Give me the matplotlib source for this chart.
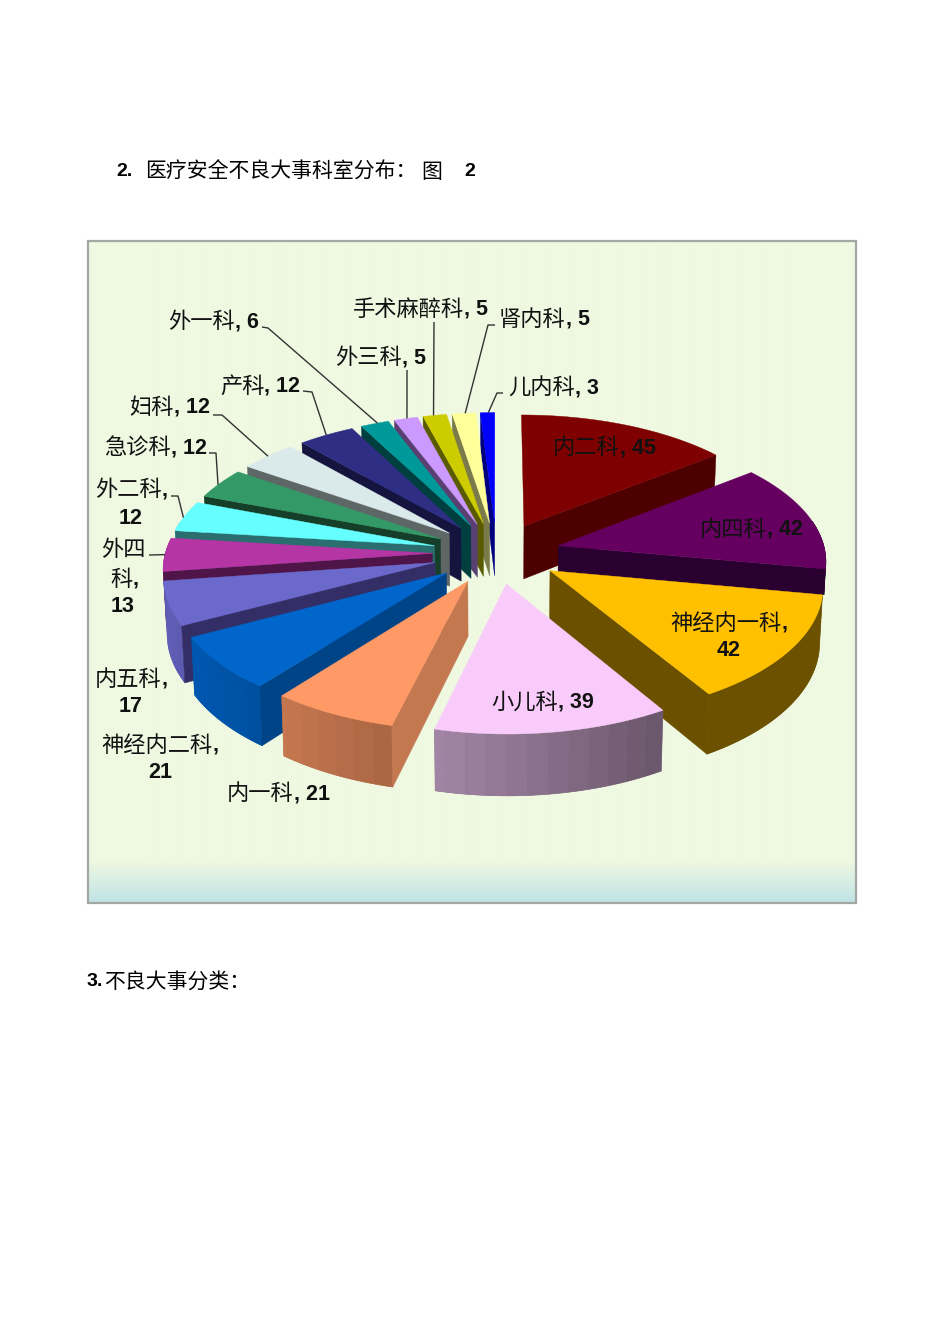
import numpy as np
import matplotlib
matplotlib.use("Agg")
import matplotlib.pyplot as plt
from matplotlib.colors import to_rgb, LinearSegmentedColormap
from matplotlib.patches import Polygon, Rectangle

categories = ["内二科", "内四科", "神经内一科", "小儿科", "内一科", "神经内二科", "内五科", "外四科",
              "外二科", "急诊科", "妇科", "产科", "外一科", "外三科", "手术麻醉科", "肾内科", "儿内科"]
values = [45, 42, 42, 39, 21, 21, 17, 13, 12, 12, 12, 12, 6, 5, 5, 5, 3]

top_colors = ["#7F0000", "#660060", "#FFC000", "#F8CBFB", "#FF9966", "#0066CC", "#6B69CC", "#B535A5",
              "#66FFFF", "#339966", "#DAE9EA", "#2E2E85", "#009999", "#CC99FF", "#CCCC00", "#FFFF99", "#0000FF"]
wall_colors = ["#4D0000", "#2A0030", "#6B5000", "#8A6C88", "#C47850", "#004488", "#332F66", "#4F1548",
               "#2A6E70", "#163F2A", "#5F6666", "#14143F", "#003F3F", "#5A3F72", "#5A5A00", "#7A7A4A", "#00007F"]

# label layout: (left x, centre y) for each text line; the last line carries the value
label_lines = {
    "内二科": [(553, 448, "{c}, {v}")],
    "内四科": [(700, 529, "{c}, {v}")],
    "神经内一科": [(670, 623, "{c},"), (717, 651, "{v}")],
    "小儿科": [(491, 702, "{c}, {v}")],
    "内一科": [(227, 794, "{c}, {v}")],
    "神经内二科": [(101, 745, "{c},"), (148, 773, "{v}")],
    "内五科": [(95, 679, "{c},"), (119, 707, "{v}")],
    "外四科": [(101, 550, "外四"), (110, 579, "科,"), (111, 607, "{v}")],
    "外二科": [(95, 490, "{c},"), (119, 518, "{v}")],
    "急诊科": [(104, 448, "{c}, {v}")],
    "妇科": [(129, 407, "{c}, {v}")],
    "产科": [(220, 386, "{c}, {v}")],
    "外一科": [(168, 322, "{c}, {v}")],
    "外三科": [(335, 358, "{c}, {v}")],
    "手术麻醉科": [(353, 309, "{c}, {v}")],
    "肾内科": [(499, 319, "{c}, {v}")],
    "儿内科": [(508, 388, "{c}, {v}")],
}
# leader lines: start, knee, and the fraction of the slice's arc they point to
leaders = {
    "外一科": ((262, 327), (268, 328), 0.60),
    "外三科": ((407, 370), (407, 371), 0.55),
    "手术麻醉科": ((434, 322), (434, 323), 0.45),
    "肾内科": ((495, 325), (488, 325), 0.55),
    "儿内科": ((503, 393), (497, 393), 0.55),
    "产科": ((303, 391), (312, 392), 0.50),
    "妇科": ((213, 415), (222, 415), 0.50),
    "急诊科": ((209, 453), (216, 453), 0.45),
    "外二科": ((171, 496), (178, 496), 0.45),
    "外四科": ((149, 555), (150, 555), 0.50),
}

CX, CY, RX, RY, P, EXPLODE, DEPTH = 496.5, 553.0, 267.0, 127.7, 0.1027, 0.24, 54.0
BAND_DEG = 4


def project(X, Y, bottom=False):
    s = 1.0 / (1.0 + P * Y)
    x = RX * X * s
    y = -RY * Y * s
    if bottom:
        return CX + x * 0.99, CY + y + DEPTH * s
    return CX + x, CY + y


plt.rcParams["font.family"] = ["Noto Sans CJK SC", "DejaVu Sans"]
fig = plt.figure(figsize=(9.5, 13.44), dpi=100, facecolor="white")
ax = fig.add_axes([0, 0, 1, 1])
ax.axis("off")

# panel background
grad = np.concatenate([np.zeros(620), np.linspace(0, 1, 42)])[:, None]
stops = LinearSegmentedColormap.from_list("bg2", ["#EFF8E1", "#BDE3E5"])
ax.imshow(grad, extent=(88, 856, 903, 241), cmap=stops, aspect="auto", zorder=0, interpolation="bilinear")
ax.set_xlim(0, 950)
ax.set_ylim(1344, 0)
ax.add_patch(Rectangle((88, 241), 768, 662, fill=False, ec="#A3A8A3", lw=1.6, zorder=1))

total = sum(values)
edges = np.concatenate([[0], np.cumsum(values)]) / total * 2 * np.pi
mids = (edges[:-1] + edges[1:]) / 2
order = np.argsort(-np.cos(mids))


def shade(color, f):
    return tuple(np.clip(np.array(to_rgb(color)) * f, 0, 1))


def rim_factor(t):
    return np.clip(0.585 - 0.315 * np.sin(t), 0.42, 0.9)


z = 2
rim_points = {}
for i in order:
    t0, t1, m = edges[i], edges[i + 1], mids[i]
    ox, oy = EXPLODE * np.sin(m), EXPLODE * np.cos(m)
    th = np.linspace(t0, t1, max(4, int(np.degrees(t1 - t0)) + 2))
    WX, WY = ox + np.sin(th), oy + np.cos(th)
    xt, yt = project(WX, WY)
    xb, yb = project(WX, WY, bottom=True)
    ax_, ay_ = project(np.array([ox]), np.array([oy]))
    axb, ayb = project(np.array([ox]), np.array([oy]), bottom=True)
    rim_points[categories[i]] = (t0, t1, ox, oy)

    # on the right, a rim that turns the side of the pie is hidden below the next slice's top face
    clip = None
    if -0.3 < np.cos(t1) < 0 and np.sin(t1) > 0:
        mn = mids[i + 1]
        _, next_y = project(EXPLODE * np.sin(mn) + np.sin(t1), EXPLODE * np.cos(mn) + np.cos(t1))
        clip = Rectangle((0, 0), 950, next_y, transform=ax.transData)

    # outer rim wall: a solid base, then shaded vertical bands over it
    front = np.cos(th) < 0.2
    if front.sum() >= 2:
        base = shade(top_colors[i], rim_factor(m))
        p = ax.add_patch(Polygon(np.column_stack([np.r_[xt[front], xb[front][::-1]], np.r_[yt[front], yb[front][::-1]]]),
                                 closed=True, fc=base, ec=base, lw=0.4, zorder=z))
        if clip is not None:
            p.set_clip_path(clip)
        idx = np.where(front)[0]
        for k0 in range(idx[0], idx[-1], BAND_DEG):
            k1 = min(k0 + BAND_DEG, idx[-1])
            tm = (th[k0] + th[k1]) / 2
            col = shade(top_colors[i], rim_factor(tm))
            seg = np.arange(k0, k1 + 1)
            p = ax.add_patch(Polygon(np.column_stack([np.r_[xt[seg], xb[seg][::-1]], np.r_[yt[seg], yb[seg][::-1]]]),
                                     closed=True, fc=col, ec="none", lw=0, zorder=z))
            if clip is not None:
                p.set_clip_path(clip)
    # radial walls that face the viewer
    if np.sin(t1) > 0:
        p = ax.add_patch(Polygon([(ax_[0], ay_[0]), (xt[-1], yt[-1]), (xb[-1], yb[-1]), (axb[0], ayb[0])],
                                 closed=True, fc=wall_colors[i], ec=wall_colors[i], lw=0.3, zorder=z))
        if clip is not None:
            p.set_clip_path(clip)
    if np.sin(t0) < 0:
        ax.add_patch(Polygon([(ax_[0], ay_[0]), (xt[0], yt[0]), (xb[0], yb[0]), (axb[0], ayb[0])],
                             closed=True, fc=wall_colors[i], ec=wall_colors[i], lw=0.3, zorder=z))
    # top face
    pts = np.column_stack([np.r_[ax_, xt], np.r_[ay_, yt]])
    ax.add_patch(Polygon(pts, closed=True, fc=top_colors[i], ec=top_colors[i], lw=0.3, zorder=z))
    z += 1

# leader lines, ending on the rim of their slice
for name, (start, knee, frac) in leaders.items():
    t0, t1, ox, oy = rim_points[name]
    t = t0 + (t1 - t0) * frac
    ex, ey = project(ox + np.sin(t), oy + np.cos(t))
    ax.plot([start[0], knee[0], ex], [start[1], knee[1], ey], color="#333333", lw=1.0, zorder=50,
            solid_capstyle="butt")

renderer = fig.canvas.get_renderer()
CJK = dict(family=["Noto Sans CJK SC", "DejaVu Sans"], fontsize=16, color="#111111", va="center", zorder=60)
BOLD = dict(family="Liberation Sans", fontweight="bold", fontsize=15.5, color="#111111", va="center", zorder=60)


def mixed(x, y, cjk, bold, ck=CJK, bd=BOLD):
    if cjk:
        t = ax.text(x, y, cjk, ha="left", **ck)
        x = t.get_window_extent(renderer).x1
    if bold:
        ax.text(x, y, bold, ha="left", **bd)


for cat, val in zip(categories, values):
    for (lx, ly, tpl) in label_lines[cat]:
        text = tpl.format(c=cat, v=val)
        if text == str(val):
            mixed(lx, ly, "", text)
        elif cat in text:
            mixed(lx, ly, cat, text[len(cat):])
        elif text.endswith(","):
            mixed(lx, ly, text[:-1], ",")
        else:
            mixed(lx, ly, text, "")

# page text around the chart
TITLE_CJK = dict(CJK, fontsize=15, color="#000000")
TITLE_B = dict(BOLD, fontsize=14, color="#000000")
mixed(116, 172, "", "2.", bd=TITLE_B)
ax.text(145, 172, "医疗安全不良大事科室分布：", ha="left", **TITLE_CJK)
ax.text(421, 172, "图", ha="left", **TITLE_CJK)
ax.text(464, 172, "2", ha="left", **TITLE_B)
ax.text(87, 982, "3.", ha="left", **TITLE_B)
ax.text(104, 982, "不良大事分类：", ha="left", **dict(TITLE_CJK, fontsize=15))

fig.savefig("out.png", dpi=100, facecolor="white")
